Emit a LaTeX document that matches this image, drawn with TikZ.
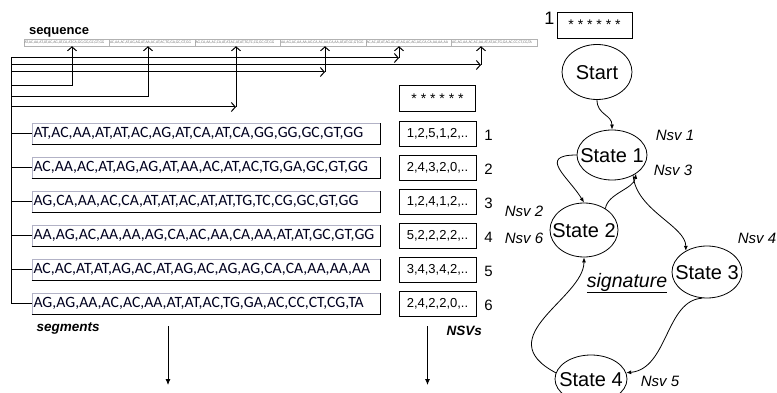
\documentclass[tikz,border=0pt]{standalone}
\usepackage{fontspec}
\setmainfont{Liberation Sans}
\newfontfamily\segfont{Carlito}
\usetikzlibrary{arrows.meta,shapes.geometric}
\colorlet{segText}{black!88!blue}
\colorlet{segFrame}{blue!25!black!30}
\colorlet{seqFrame}{black!30}
\colorlet{seqText}{black!55}
\newcommand{\slab}[1]{\makebox[0pt]{\raisebox{-0.36em}[0pt][0pt]{#1}}}
\tikzset{
  >=Latex,
  segbox/.style={
    draw=segFrame,
    line width=0.6pt,
    minimum width=348pt,
    minimum height=21pt,
    text width=345pt,
    inner xsep=1.5pt,
    inner ysep=0pt,
    align=left,
    font=\segfont\fontsize{15.7}{16}\selectfont,
    text=segText
  },
  segshadow/.style={
    line width=1pt,
    draw=black
  },
  seqbox/.style={
    draw=seqFrame,
    line width=0.4pt,
    minimum width=85.5pt,
    minimum height=7pt,
    text width=84.5pt,
    inner xsep=0.5pt,
    inner ysep=0pt,
    align=left,
    font=\segfont\fontsize{3.8}{4}\selectfont,
    text=seqText
  },
  nsvbox/.style={
    draw=black,
    line width=0.9pt,
    minimum width=77pt,
    minimum height=25pt,
    inner sep=0pt,
    font=\fontsize{13}{14}\selectfont
  },
  starbox/.style={
    draw=black,
    line width=0.9pt,
    minimum width=76pt,
    minimum height=26pt,
    inner sep=0pt,
    font=\fontsize{14}{14}\selectfont
  },
  rownum/.style={
    font=\fontsize{15}{16}\selectfont
  },
  state/.style={
    ellipse,
    draw=black,
    line width=0.8pt,
    inner sep=0pt,
    font=\fontsize{20}{22}\selectfont
  },
  nsvlab/.style={
    font=\fontsize{15}{16}\selectfont\itshape
  },
  caption/.style={
    anchor=base west,
    font=\fontsize{13.5}{14}\selectfont\bfseries\itshape
  },
  wire/.style={
    line width=1pt,
    draw=black
  },
  pointer/.style={
    -{Straight Barb[length=4pt,width=9pt]},
    line width=1pt,
    draw=black
  },
  flow/.style={
    -{Latex[length=5pt,width=4pt]},
    line width=0.8pt,
    draw=black
  },
  downarrow/.style={
    -{Latex[length=6pt,width=5pt]},
    line width=0.8pt,
    draw=black
  }
}

\begin{document}
\begin{tikzpicture}[x=1pt,y=-1pt]

\fill[white] (0,0) rectangle (777,393);
\useasboundingbox (0,0) rectangle (777,393);

\node[anchor=base west, font=\fontsize{13}{14}\selectfont\bfseries] (seqlab) at (25.5,35) {sequence};

\node[seqbox] (seq1) at (66.75,42.5) {AT,AC,AA,AT,AT,AC,AG,AT,CA,AT,CA,GG,GG,GC,GT,GG};
\node[seqbox] (seq2) at (152.25,42.5) {AC,AA,AC,AT,AG,AG,AT,AA,AC,AT,AC,TG,GA,GC,GT,GG};
\node[seqbox] (seq3) at (237.75,42.5) {AG,CA,AA,AC,CA,AT,AT,AC,AT,AT,TG,TC,CG,GC,GT,GG};
\node[seqbox] (seq4) at (323.25,42.5) {AA,AG,AC,AA,AA,AG,CA,AC,AA,CA,AA,AT,AT,GC,GT,GG};
\node[seqbox] (seq5) at (408.75,42.5) {AC,AC,AT,AT,AG,AC,AT,AG,AC,AG,AG,CA,CA,AA,AA,AA};
\node[seqbox] (seq6) at (494.25,42.5) {AG,AG,AA,AC,AC,AA,AT,AT,AC,TG,GA,AC,CC,CT,CG,TA};

\node[segbox] (seg1) at (206,133.5) {AT,AC,AA,AT,AT,AC,AG,AT,CA,AT,CA,GG,GG,GC,GT,GG};
\node[segbox] (seg2) at (206,167.5) {AC,AA,AC,AT,AG,AG,AT,AA,AC,AT,AC,TG,GA,GC,GT,GG};
\node[segbox] (seg3) at (206,201.5) {AG,CA,AA,AC,CA,AT,AT,AC,AT,AT,TG,TC,CG,GC,GT,GG};
\node[segbox] (seg4) at (206,235.5) {AA,AG,AC,AA,AA,AG,CA,AC,AA,CA,AA,AT,AT,GC,GT,GG};
\node[segbox] (seg5) at (206,269.5) {AC,AC,AT,AT,AG,AC,AT,AG,AC,AG,AG,CA,CA,AA,AA,AA};
\node[segbox] (seg6) at (206,303.5) {AG,AG,AA,AC,AC,AA,AT,AT,AC,TG,GA,AC,CC,CT,CG,TA};

\draw[segshadow] (seg1.south west) -- (seg1.south east) -- (seg1.north east);
\draw[segshadow] (seg2.south west) -- (seg2.south east) -- (seg2.north east);
\draw[segshadow] (seg3.south west) -- (seg3.south east) -- (seg3.north east);
\draw[segshadow] (seg4.south west) -- (seg4.south east) -- (seg4.north east);
\draw[segshadow] (seg5.south west) -- (seg5.south east) -- (seg5.north east);
\draw[segshadow] (seg6.south west) -- (seg6.south east) -- (seg6.north east);

\node[caption] (seglab) at (33,331) {segments};

\node[starbox] (stars) at (437.5,98.5) {* * * * * *};
\node[nsvbox] (nsv1) at (437.5,133.5) {1,2,5,1,2,..};
\node[nsvbox] (nsv2) at (437.5,167.5) {2,4,3,2,0,..};
\node[nsvbox] (nsv3) at (437.5,201.5) {1,2,4,1,2,..};
\node[nsvbox] (nsv4) at (437.5,235.5) {5,2,2,2,2,..};
\node[nsvbox] (nsv5) at (437.5,269.5) {3,4,3,4,2,..};
\node[nsvbox] (nsv6) at (437.5,303.5) {2,4,2,2,0,..};

\node[rownum] (num1) at (488.5,135) {1};
\node[rownum] (num2) at (488.5,169) {2};
\node[rownum] (num3) at (488.5,203) {3};
\node[rownum] (num4) at (488.5,237) {4};
\node[rownum] (num5) at (488.5,271) {5};
\node[rownum] (num6) at (488.5,305) {6};

\node[caption] (nsvlab) at (443,335) {NSVs};

\node[starbox, minimum width=75pt] (sigbox) at (594.5,25) {* * * * * *};
\node[font=\fontsize{18}{18}\selectfont] (sigidx) at (549.5,18.5) {1};

\coordinate (bus) at (11,58);
\draw[wire] (bus) |- (seg6.west);
\draw[wire] (bus |- seg1.west) -- (seg1.west);
\draw[wire] (bus |- seg2.west) -- (seg2.west);
\draw[wire] (bus |- seg3.west) -- (seg3.west);
\draw[wire] (bus |- seg4.west) -- (seg4.west);
\draw[wire] (bus |- seg5.west) -- (seg5.west);

\coordinate (hit1) at (72,86);
\coordinate (hit2) at (148,97);
\coordinate (hit3) at (236,107);
\coordinate (hit4) at (325,72);
\coordinate (hit5) at (399,58);
\coordinate (hit6) at (481,65);

\draw[wire] (bus |- hit1) -- (hit1);
\draw[pointer] (hit1) -- (hit1 |- seq1.south);
\draw[wire] (bus |- hit2) -- (hit2);
\draw[pointer] (hit2) -- (hit2 |- seq2.south);
\draw[pointer] (bus |- hit3) -- (hit3);
\draw[pointer] (hit3) -- (hit3 |- seq3.south);
\draw[pointer] (bus |- hit4) -- (hit4);
\draw[pointer] (hit4) -- (hit4 |- seq4.south);
\draw[pointer] (bus) -- (hit5);
\draw[pointer] (hit5) -- (hit5 |- seq5.south);
\draw[pointer] (bus |- hit6) -- (hit6);
\draw[pointer] (hit6) -- (hit6 |- seq6.south);

\coordinate (segout) at (168,385);
\coordinate (nsvout) at (427.5,385);
\draw[downarrow] (segout |- 0,326) -- (segout);
\draw[downarrow] (nsvout |- 0,326) -- (nsvout);

\node[state, minimum width=70pt, minimum height=55pt] (start) at (597,72) {\slab{Start}};
\node[state, minimum width=70pt, minimum height=50pt] (s1) at (612,155) {\slab{State 1}};
\node[state, minimum width=68pt, minimum height=54pt] (s2) at (584,230) {\slab{State 2}};
\node[state, minimum width=70pt, minimum height=52pt] (s3) at (707,272) {\slab{State 3}};
\node[state, minimum width=72pt, minimum height=48pt] (s4) at (591,379) {\slab{State 4}};

\node[nsvlab] (nsvA) at (675,135) {Nsv 1};
\node[nsvlab] (nsvC) at (673,170) {Nsv 3};
\node[nsvlab] (nsvB) at (524,211) {Nsv 2};
\node[nsvlab] (nsvF) at (524,238) {Nsv 6};
\node[nsvlab] (nsvD) at (757,238) {Nsv 4};
\node[nsvlab] (nsvE) at (660,381) {Nsv 5};
\node[anchor=base, font=\fontsize{19.5}{20}\selectfont\itshape] (sig) at (627,287) {\underline{signature}};

\draw[flow] (start.south) .. controls +(0,15) and +(0,-15) .. (s1.north);
\draw[flow] (s1.west) .. controls +(-40,0) and +(-15,-25) .. (s2.north);
\draw[flow] (s2.45) .. controls +(2,-15) and +(-2,15) .. (s1.-38);
\draw[flow] (s1.-44) .. controls +(3,35) and +(0,-25) .. (s3.135);
\draw[flow] (s3.-100) .. controls +(-37,2) and +(42,-4) .. (s4.10);
\draw[flow] (s4.170) .. controls +(-68,-36) and +(0,41) .. (s2.south);

\end{tikzpicture}
\end{document}
